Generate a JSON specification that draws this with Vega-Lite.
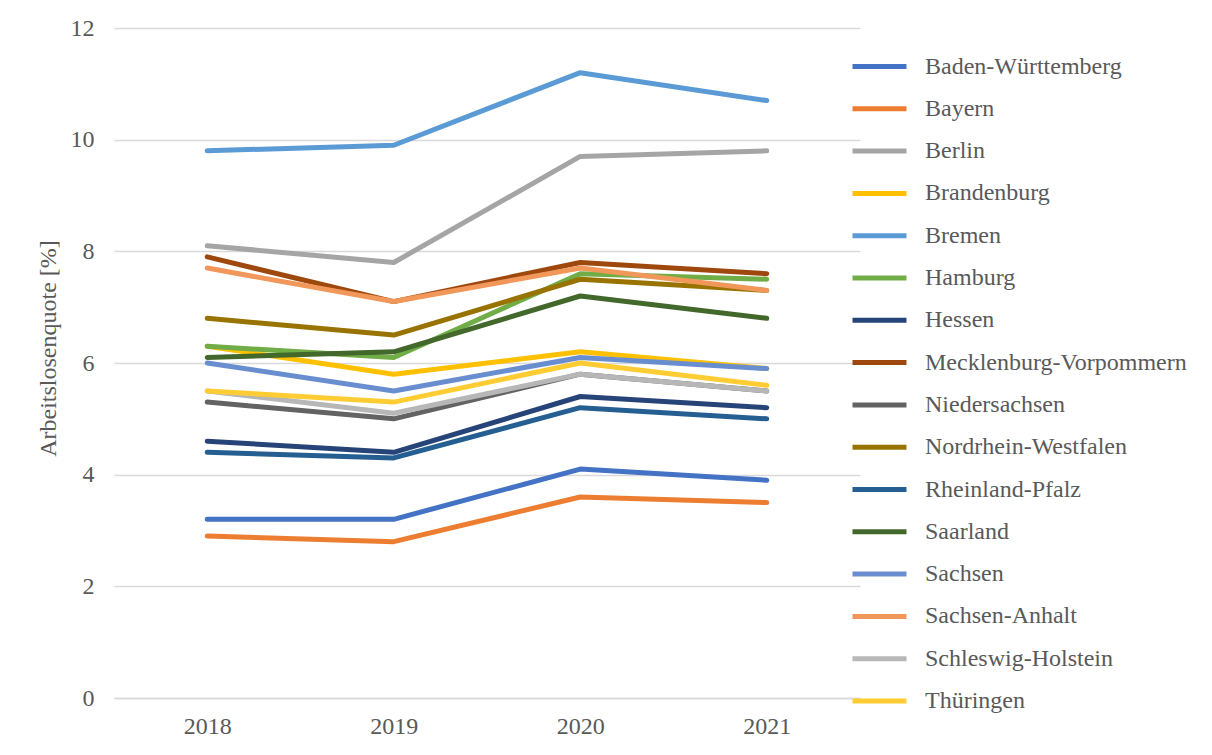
{
  "$schema": "https://vega.github.io/schema/vega-lite/v6.json",
  "width": 746,
  "height": 670,
  "autosize": {"type": "none"},
  "padding": {"left": 114, "top": 28, "right": 352, "bottom": 57},
  "background": "white",
  "config": {
    "view": {"stroke": null},
    "font": "Liberation Serif"
  },
  "data": {
    "values": [
      {"land": "Baden-Württemberg", "jahr": "2018", "wert": 3.2},
      {"land": "Baden-Württemberg", "jahr": "2019", "wert": 3.2},
      {"land": "Baden-Württemberg", "jahr": "2020", "wert": 4.1},
      {"land": "Baden-Württemberg", "jahr": "2021", "wert": 3.9},
      {"land": "Bayern", "jahr": "2018", "wert": 2.9},
      {"land": "Bayern", "jahr": "2019", "wert": 2.8},
      {"land": "Bayern", "jahr": "2020", "wert": 3.6},
      {"land": "Bayern", "jahr": "2021", "wert": 3.5},
      {"land": "Berlin", "jahr": "2018", "wert": 8.1},
      {"land": "Berlin", "jahr": "2019", "wert": 7.8},
      {"land": "Berlin", "jahr": "2020", "wert": 9.7},
      {"land": "Berlin", "jahr": "2021", "wert": 9.8},
      {"land": "Brandenburg", "jahr": "2018", "wert": 6.3},
      {"land": "Brandenburg", "jahr": "2019", "wert": 5.8},
      {"land": "Brandenburg", "jahr": "2020", "wert": 6.2},
      {"land": "Brandenburg", "jahr": "2021", "wert": 5.9},
      {"land": "Bremen", "jahr": "2018", "wert": 9.8},
      {"land": "Bremen", "jahr": "2019", "wert": 9.9},
      {"land": "Bremen", "jahr": "2020", "wert": 11.2},
      {"land": "Bremen", "jahr": "2021", "wert": 10.7},
      {"land": "Hamburg", "jahr": "2018", "wert": 6.3},
      {"land": "Hamburg", "jahr": "2019", "wert": 6.1},
      {"land": "Hamburg", "jahr": "2020", "wert": 7.6},
      {"land": "Hamburg", "jahr": "2021", "wert": 7.5},
      {"land": "Hessen", "jahr": "2018", "wert": 4.6},
      {"land": "Hessen", "jahr": "2019", "wert": 4.4},
      {"land": "Hessen", "jahr": "2020", "wert": 5.4},
      {"land": "Hessen", "jahr": "2021", "wert": 5.2},
      {"land": "Mecklenburg-Vorpommern", "jahr": "2018", "wert": 7.9},
      {"land": "Mecklenburg-Vorpommern", "jahr": "2019", "wert": 7.1},
      {"land": "Mecklenburg-Vorpommern", "jahr": "2020", "wert": 7.8},
      {"land": "Mecklenburg-Vorpommern", "jahr": "2021", "wert": 7.6},
      {"land": "Niedersachsen", "jahr": "2018", "wert": 5.3},
      {"land": "Niedersachsen", "jahr": "2019", "wert": 5.0},
      {"land": "Niedersachsen", "jahr": "2020", "wert": 5.8},
      {"land": "Niedersachsen", "jahr": "2021", "wert": 5.5},
      {"land": "Nordrhein-Westfalen", "jahr": "2018", "wert": 6.8},
      {"land": "Nordrhein-Westfalen", "jahr": "2019", "wert": 6.5},
      {"land": "Nordrhein-Westfalen", "jahr": "2020", "wert": 7.5},
      {"land": "Nordrhein-Westfalen", "jahr": "2021", "wert": 7.3},
      {"land": "Rheinland-Pfalz", "jahr": "2018", "wert": 4.4},
      {"land": "Rheinland-Pfalz", "jahr": "2019", "wert": 4.3},
      {"land": "Rheinland-Pfalz", "jahr": "2020", "wert": 5.2},
      {"land": "Rheinland-Pfalz", "jahr": "2021", "wert": 5.0},
      {"land": "Saarland", "jahr": "2018", "wert": 6.1},
      {"land": "Saarland", "jahr": "2019", "wert": 6.2},
      {"land": "Saarland", "jahr": "2020", "wert": 7.2},
      {"land": "Saarland", "jahr": "2021", "wert": 6.8},
      {"land": "Sachsen", "jahr": "2018", "wert": 6.0},
      {"land": "Sachsen", "jahr": "2019", "wert": 5.5},
      {"land": "Sachsen", "jahr": "2020", "wert": 6.1},
      {"land": "Sachsen", "jahr": "2021", "wert": 5.9},
      {"land": "Sachsen-Anhalt", "jahr": "2018", "wert": 7.7},
      {"land": "Sachsen-Anhalt", "jahr": "2019", "wert": 7.1},
      {"land": "Sachsen-Anhalt", "jahr": "2020", "wert": 7.7},
      {"land": "Sachsen-Anhalt", "jahr": "2021", "wert": 7.3},
      {"land": "Schleswig-Holstein", "jahr": "2018", "wert": 5.5},
      {"land": "Schleswig-Holstein", "jahr": "2019", "wert": 5.1},
      {"land": "Schleswig-Holstein", "jahr": "2020", "wert": 5.8},
      {"land": "Schleswig-Holstein", "jahr": "2021", "wert": 5.5},
      {"land": "Thüringen", "jahr": "2018", "wert": 5.5},
      {"land": "Thüringen", "jahr": "2019", "wert": 5.3},
      {"land": "Thüringen", "jahr": "2020", "wert": 6.0},
      {"land": "Thüringen", "jahr": "2021", "wert": 5.6}
    ]
  },
  "mark": {"type": "line", "strokeWidth": 5, "strokeCap": "round", "strokeJoin": "round"},
  "encoding": {
    "x": {
      "field": "jahr",
      "type": "ordinal",
      "scale": {"type": "point", "padding": 0.5},
      "axis": {
        "title": null,
        "labelAngle": 0,
        "labelFontSize": 24,
        "labelColor": "#595959",
        "labelPadding": 16,
        "ticks": false,
        "domainColor": "#D9D9D9",
        "domainWidth": 1.3,
        "grid": false
      }
    },
    "y": {
      "field": "wert",
      "type": "quantitative",
      "scale": {"domain": [0, 12], "nice": false},
      "axis": {
        "title": "Arbeitslosenquote [%]",
        "titleFontSize": 24,
        "titleFontWeight": "normal",
        "titleColor": "#595959",
        "titleY": 320,
        "titlePadding": 10,
        "values": [0, 2, 4, 6, 8, 10, 12],
        "labelFontSize": 24,
        "labelColor": "#595959",
        "labelPadding": 20,
        "ticks": false,
        "domain": false,
        "gridColor": "#D9D9D9",
        "gridWidth": 1.3
      }
    },
    "color": {
      "field": "land",
      "type": "nominal",
      "scale": {
        "domain": ["Baden-Württemberg", "Bayern", "Berlin", "Brandenburg", "Bremen", "Hamburg", "Hessen", "Mecklenburg-Vorpommern", "Niedersachsen", "Nordrhein-Westfalen", "Rheinland-Pfalz", "Saarland", "Sachsen", "Sachsen-Anhalt", "Schleswig-Holstein", "Thüringen"],
        "range": ["#4472C4", "#ED7D31", "#A5A5A5", "#FFC000", "#5B9BD5", "#70AD47", "#264478", "#9E480E", "#636363", "#997300", "#255E91", "#43682B", "#698ED0", "#F1975A", "#B7B7B7", "#FFCD33"]
      },
      "legend": {
        "title": null,
        "orient": "none",
        "legendX": 736,
        "legendY": 9,
        "symbolType": "stroke",
        "symbolSize": 2916,
        "symbolStrokeWidth": 5,
        "labelFontSize": 24,
        "labelColor": "#595959",
        "labelOffset": 16,
        "labelLimit": 400,
        "rowPadding": 0.3
      }
    }
  }
}
